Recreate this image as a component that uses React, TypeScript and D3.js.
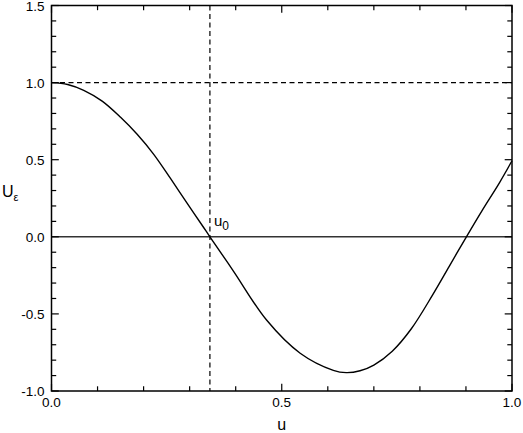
import React from "react";
import * as d3 from "d3";

const uValues = [0, 0.035, 0.07, 0.11, 0.15, 0.186, 0.222, 0.258, 0.294, 0.33, 0.344, 0.395, 0.467, 0.54, 0.612, 0.64, 0.67, 0.70, 0.74, 0.781, 0.828, 0.864, 0.901, 0.936, 0.973, 1.0];
const uEps = [1, 0.988, 0.95, 0.88, 0.775, 0.665, 0.535, 0.38, 0.22, 0.062, 0, -0.222, -0.54, -0.755, -0.866, -0.881, -0.869, -0.832, -0.742, -0.598, -0.375, -0.19, 0, 0.175, 0.352, 0.493];
const xTickLabels = [0, 0.5, 1.0];
const yTickLabels = [-1.0, -0.5, 0.0, 0.5, 1.0, 1.5];
const u0 = 0.344;
const refLevel = 1.0;

const W = 523, H = 433;
const L = 51.5, R = 512, T = 5.5, B = 391;

export default function App() {
  const x = d3.scaleLinear().domain([0, 1]).range([L, R]);
  const y = d3.scaleLinear().domain([-1, 1.5]).range([B, T]);
  const pts = uValues.map((u, i) => [u, uEps[i]] as [number, number]);
  const line = d3.line<[number, number]>().x(d => x(d[0])).y(d => y(d[1])).curve(d3.curveCatmullRom.alpha(0.5));
  const xMinor = d3.range(0, 11).map(i => i / 10);
  const yMinor = d3.range(-10, 16).map(i => i / 10);
  const font = "'Liberation Sans', Arial, Helvetica, sans-serif";
  const isMajor = (v: number) => Math.abs(v * 2 - Math.round(v * 2)) < 1e-6;
  return (
    <svg width={W} height={H} style={{ position: "absolute", left: 0, top: 0, background: "#fff" }} fontFamily={font}>
      <rect x={0} y={0} width={W} height={H} fill="#fff" />
      {/* zero line */}
      <line x1={x(0)} x2={x(1)} y1={y(0)} y2={y(0)} stroke="#333" strokeWidth={1.5} />
      {/* dashed ref lines */}
      <line x1={x(0)} x2={x(1)} y1={y(refLevel)} y2={y(refLevel)} stroke="#000" strokeWidth={1.2} strokeDasharray="5,3.5" />
      <line x1={x(u0)} x2={x(u0)} y1={y(1.5)} y2={y(-1)} stroke="#000" strokeWidth={1.2} strokeDasharray="5,3.5" />
      {/* curve */}
      <path d={line(pts) || ""} fill="none" stroke="#000" strokeWidth={1.4} />
      {/* ticks */}
      {xMinor.map(v => {
        const len = isMajor(v) ? 7.3 : 4.7;
        return (
          <g key={"xt" + v}>
            <line x1={x(v)} x2={x(v)} y1={B} y2={B - len} stroke="#000" strokeWidth={1.2} />
            <line x1={x(v)} x2={x(v)} y1={T} y2={T + len} stroke="#000" strokeWidth={1.2} />
          </g>
        );
      })}
      {yMinor.map(v => {
        const len = isMajor(v) ? 7.3 : 4.7;
        return (
          <g key={"yt" + v}>
            <line x1={L} x2={L + len} y1={y(v)} y2={y(v)} stroke="#000" strokeWidth={1.2} />
            <line x1={R} x2={R - len} y1={y(v)} y2={y(v)} stroke="#000" strokeWidth={1.2} />
          </g>
        );
      })}
      {/* frame */}
      <rect x={L} y={T} width={R - L} height={B - T} fill="none" stroke="#000" strokeWidth={1.5} />
      {/* tick labels */}
      {xTickLabels.map(v => (
        <text key={"xl" + v} x={x(v)} y={B + 16} fontSize={13.5} textAnchor="middle" fill="#000">{v.toFixed(1)}</text>
      ))}
      {yTickLabels.map(v => (
        <text key={"yl" + v} x={L - 7} y={y(v) + 5} fontSize={13.5} textAnchor="end" fill="#000">{v.toFixed(1)}</text>
      ))}
      {/* axis labels */}
      <text x={x(0.5)} y={430} fontSize={16} textAnchor="middle" fill="#000">u</text>
      <text x={2} y={197} fontSize={16} fill="#000">U<tspan fontSize={11} dy={4}>ε</tspan></text>
      <text x={x(u0) + 4} y={226} fontSize={15} fill="#000">u<tspan fontSize={12} dy={4}>0</tspan></text>
    </svg>
  );
}
